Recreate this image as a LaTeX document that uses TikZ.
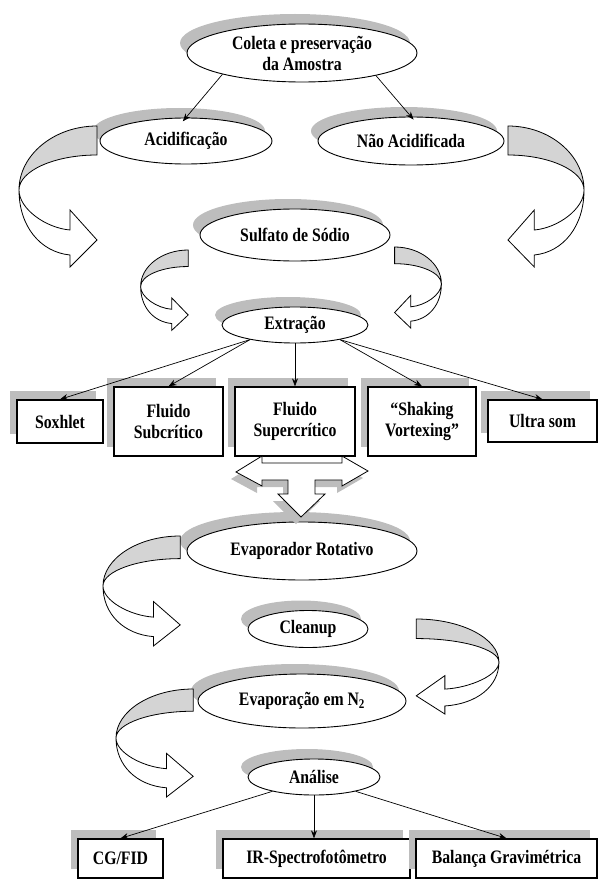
\documentclass[tikz,border=0pt]{standalone}
\usepackage{fontspec}
\setmainfont{Liberation Serif}[FakeStretch=0.83]
\usetikzlibrary{shapes.geometric,arrows.meta,shadows,calc}
\definecolor{shadowgray}{gray}{0.74}
\definecolor{bandgray}{gray}{0.83}

% curved block arrow, unit shape 79 x 141, tip pointing right
\newcommand{\bentarrow}[4]{%
  \begin{scope}[shift={(#1,#2)}, xscale=#3, yscale=#4, line width=0.8pt]
    \filldraw[fill=bandgray] (79,0) .. controls (36,0) and (1,29) .. (1,64)
      .. controls (1,45) and (36,29) .. (79,29) -- cycle;
    \filldraw[fill=white] (1,64) .. controls (1,100) and (22,126) .. (52,129)
      -- (52,141) -- (79,114) -- (52,84) -- (52,104)
      .. controls (28,102) and (1,83) .. (1,64) -- cycle;
  \end{scope}}

\begin{document}
\begin{tikzpicture}[x=1pt, y=-1pt,
    font=\fontsize{19}{21}\selectfont\bfseries,
    ellip/.style={ellipse, draw, fill=white, line width=0.9pt, inner sep=0pt, align=center,
        drop shadow={shadow xshift=-7pt, shadow yshift=10pt, fill=shadowgray, opacity=1}},
    box/.style={rectangle, draw, fill=white, line width=1.3pt, inner sep=0pt, align=center,
        drop shadow={shadow xshift=-7pt, shadow yshift=9pt, fill=shadowgray, opacity=1}},
    arrow/.style={-{Stealth[length=8pt, width=6pt]}, line width=0.7pt}
]
\useasboundingbox (0,0) rectangle (601,880);

% Sample
\node[ellip, minimum width=230pt, minimum height=58pt] (coleta) at (302,53) {Coleta e preservação\\da Amostra};
\node[ellip, minimum width=172pt, minimum height=46pt] (acid) at (186,141) {Acidificação};
\node[ellip, minimum width=186pt, minimum height=48pt] (naoacid) at (411,141) {Não Acidificada};
\node[ellip, minimum width=190pt, minimum height=52pt] (sulfato) at (295,235) {Sulfato de Sódio};
\node[ellip, minimum width=146pt, minimum height=36pt] (extracao) at (295,325) {Extração};

% Extraction methods
\node[box, minimum width=86pt, minimum height=43pt] (soxhlet) at (60,421.5) {Soxhlet};
\node[box, minimum width=109pt, minimum height=69pt] (subcrit) at (168.5,421.5) {Fluido\\Subcrítico};
\node[box, minimum width=120pt, minimum height=69pt] (supercrit) at (295,421.5) {Fluido\\Supercrítico};
\node[box, minimum width=108pt, minimum height=69pt] (shaking) at (422,421.5) {“Shaking\\Vortexing”};
\node[box, minimum width=109pt, minimum height=42pt] (ultrasom) at (542.5,421) {Ultra som};

% Concentration and analysis
\node[ellip, minimum width=230pt, minimum height=58pt] (evaprot) at (302,551) {Evaporador Rotativo};
\node[ellip, minimum width=120pt, minimum height=37pt] (cleanup) at (308,629) {Cleanup};
\node[ellip, minimum width=208pt, minimum height=54pt] (evapn2) at (302,701) {Evaporação em N\textsubscript{2}};
\node[ellip, minimum width=132pt, minimum height=36pt] (analise) at (314,777) {Análise};

\node[box, minimum width=85pt, minimum height=39pt] (cgfid) at (120.5,858.5) {CG/FID};
\node[box, minimum width=187pt, minimum height=39pt] (irspec) at (316.5,858.5) {IR-Spectrofotômetro};
\node[box, minimum width=181pt, minimum height=39pt] (balanca) at (506.5,858.5) {Balança Gravimétrica};

% Arrows
\draw[arrow, shorten >=-5pt] (coleta.195) -- (acid.north);
\draw[arrow, shorten >=-4pt] (coleta.343) -- (naoacid.north);

\foreach \m in {soxhlet, subcrit}
    \draw[arrow] (extracao.198) -- (\m.north);
\draw[arrow] (extracao.south) -- (supercrit.north);
\foreach \m in {shaking, ultrasom}
    \draw[arrow] (extracao.342) -- (\m.north);

\draw[arrow] (analise.199) -- (cgfid.north);
\draw[arrow] (analise.south) -- (analise.south |- irspec.north);
\draw[arrow] (analise.341) -- (balanca.north);

% Curved block arrows
\bentarrow{18}{126}{1}{1}
\bentarrow{585}{126}{-0.975}{1}
\bentarrow{140}{250}{0.61}{0.57}
\bentarrow{442}{247}{-0.6}{0.575}
\bentarrow{102}{536}{0.99}{0.78}
\bentarrow{500}{619}{-1.06}{0.674}
\bentarrow{115}{689}{0.99}{0.766}

% Left-right-down block arrow
\fill[shadowgray, shift={(-5,7)}] (236,472) -- (262,456) -- (262,463) -- (342,463) -- (342,456)
    -- (368,471) -- (342,486) -- (342,480) -- (315,480) -- (315,494) -- (325,494) -- (301,517)
    -- (278,494) -- (288,494) -- (288,480) -- (262,480) -- (262,486) -- cycle;
\filldraw[fill=white, line width=0.8pt] (236,472) -- (262,456) -- (262,463) -- (342,463) -- (342,456)
    -- (368,471) -- (342,486) -- (342,480) -- (315,480) -- (315,494) -- (325,494) -- (301,517)
    -- (278,494) -- (288,494) -- (288,480) -- (262,480) -- (262,486) -- cycle;

\end{tikzpicture}
\end{document}
